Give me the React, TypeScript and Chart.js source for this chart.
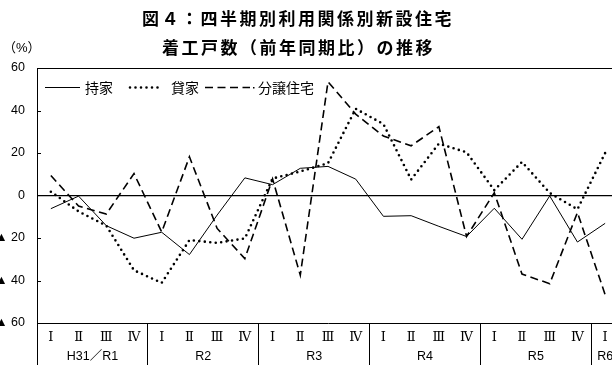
import React, { useEffect, useRef } from "react";
import { Chart, registerables } from "chart.js";

Chart.register(...registerables);

// ---- data ----
const quarterLabels = [
  "Ⅰ", "Ⅱ", "Ⅲ", "Ⅳ",
  "Ⅰ", "Ⅱ", "Ⅲ", "Ⅳ",
  "Ⅰ", "Ⅱ", "Ⅲ", "Ⅳ",
  "Ⅰ", "Ⅱ", "Ⅲ", "Ⅳ",
  "Ⅰ", "Ⅱ", "Ⅲ", "Ⅳ",
  "Ⅰ",
];
const yearLabels = ["H31／R1", "R2", "R3", "R4", "R5", "R6"];
const quartersPerYear = [4, 4, 4, 4, 4, 1];

const ownerOccupied = [
  -6.2, -0.3, -14.2, -20.1,
  -17.3, -27.8, -9.2, 8.3,
  5.1, 12.8, 13.7, 7.7,
  -9.8, -9.5, -14.5, -19.3,
  -6.0, -20.6, -0.2, -21.9,
  -13.1,
];
const rental = [
  1.8, -7.5, -14.2, -35.2,
  -41.1, -21.0, -22.3, -20.2,
  8.0, 11.3, 15.2, 40.8,
  33.6, 7.5, 24.4, 20.3,
  2.5, 15.8, 1.2, -6.5,
  20.0,
];
const forSale = [
  9.4, -5.0, -8.7, 10.3,
  -17.2, 18.2, -15.5, -29.7,
  7.8, -37.5, 53.5, 38.3,
  28.0, 23.4, 32.4, -19.3,
  1.3, -37.0, -41.5, -8.0,
  -46.7,
];
const seriesNames = ["持家", "貸家", "分譲住宅"];
const innerTickValues = [40, 20, -20, -40];
const titleLines = ["図４：四半期別利用関係別新設住宅", "着工戸数（前年同期比）の推移"];
const unitLabel = "（%）";

const FONT = "'Liberation Sans', 'Noto Sans CJK JP', sans-serif";
const JFONT = "'Noto Sans CJK JP', sans-serif";
const ROMAN_FONT = "'DejaVu Serif', 'Noto Sans CJK JP', serif";

const decorPlugin = {
  id: "decor",
  afterDraw(chart: any) {
    const { ctx, chartArea: ca, scales } = chart;
    const xs = scales.x;
    const ys = scales.y;
    ctx.save();
    ctx.strokeStyle = "#000";
    ctx.fillStyle = "#000";
    ctx.lineWidth = 1;
    ctx.setLineDash([]);

    // top border of plot
    const topY = Math.round(ca.top) + 0.5;
    ctx.beginPath();
    ctx.moveTo(ca.left, topY);
    ctx.lineTo(ca.right, topY);
    ctx.stroke();

    // inward y ticks
    innerTickValues.forEach((v) => {
      const py = Math.round(ys.getPixelForValue(v)) + 0.5;
      ctx.beginPath();
      ctx.moveTo(ca.left, py);
      ctx.lineTo(ca.left + 4, py);
      ctx.stroke();
    });

    // quarter labels
    ctx.textAlign = "center";
    ctx.textBaseline = "middle";
    ctx.font = `13px ${ROMAN_FONT}`;
    quarterLabels.forEach((q, i) => {
      ctx.fillText(q, xs.getPixelForValue(i), ca.bottom + 14.5);
    });

    // year labels
    ctx.font = `12.5px ${FONT}`;
    let start = 0;
    yearLabels.forEach((yl, k) => {
      const n = quartersPerYear[k];
      const cx = (xs.getPixelForValue(start) + xs.getPixelForValue(start + n - 1)) / 2;
      ctx.fillText(yl, cx, ca.bottom + 33.5);
      start += n;
    });

    // legend inside plot
    const ly = Math.round(ca.top + 19) + 0.5;
    const items = [
      { sx: ca.left + 8, ex: ca.left + 43, tx: ca.left + 48 },
      { sx: ca.left + 93, ex: ca.left + 125, tx: ca.left + 134 },
      { sx: ca.left + 168, ex: ca.left + 213, tx: ca.left + 221 },
    ];
    chart.data.datasets.forEach((ds: any, i: number) => {
      const it = items[i];
      ctx.save();
      ctx.lineWidth = ds.borderWidth;
      ctx.lineCap = ds.borderCapStyle || "butt";
      ctx.setLineDash(ds.borderDash || []);
      ctx.beginPath();
      ctx.moveTo(it.sx, ly);
      ctx.lineTo(it.ex, ly);
      ctx.stroke();
      if (i === 2) {
        ctx.setLineDash([]);
        ctx.fillRect(it.ex + 3, ly - 0.5, 1.5, 1.5);
      }
      ctx.restore();
      ctx.font = `14px ${JFONT}`;
      ctx.textAlign = "left";
      ctx.textBaseline = "middle";
      ctx.fillText(seriesNames[i], it.tx, ly + 0.5);
    });

    // unit label
    ctx.font = `13px ${FONT}`;
    ctx.textAlign = "left";
    ctx.textBaseline = "middle";
    ctx.fillText(unitLabel, 3, 48);

    // title
    ctx.font = `bold 17px ${JFONT}`;
    (ctx as any).letterSpacing = "2.5px";
    ctx.textAlign = "left";
    ctx.textBaseline = "middle";
    ctx.fillText(titleLines[0], 142, 19);
    ctx.fillText(titleLines[1], 162, 47.5);
    (ctx as any).letterSpacing = "0px";

    ctx.restore();
  },
};

export default function App() {
  const canvasRef = useRef<HTMLCanvasElement | null>(null);

  useEffect(() => {
    document.body.style.margin = "0";
    const canvas = canvasRef.current;
    if (!canvas) return;
    const chart = new Chart(canvas, {
      type: "line",
      data: {
        labels: quarterLabels,
        datasets: [
          {
            label: seriesNames[0],
            data: ownerOccupied,
            borderColor: "#000",
            borderWidth: 1,
            borderDash: [],
            pointRadius: 0,
            tension: 0,
            fill: false,
          },
          {
            label: seriesNames[1],
            data: rental,
            borderColor: "#000",
            borderWidth: 2.6,
            borderDash: [0, 5.5],
            borderCapStyle: "round",
            pointRadius: 0,
            tension: 0,
            fill: false,
          },
          {
            label: seriesNames[2],
            data: forSale,
            borderColor: "#000",
            borderWidth: 1.6,
            borderDash: [8, 4.5],
            pointRadius: 0,
            tension: 0,
            fill: false,
          },
        ],
      },
      options: {
        animation: false,
        responsive: false,
        devicePixelRatio: 1,
        events: [],
        layout: { padding: { top: 68, left: 0, right: 21, bottom: 0 } },
        plugins: {
          legend: { display: false },
          title: { display: false },
          tooltip: { enabled: false },
        },
        scales: {
          x: {
            type: "category",
            offset: true,
            grid: {
              offset: true,
              drawOnChartArea: false,
              drawTicks: true,
              tickLength: 42,
              color: (c: any) => (typeof c.index === "number" && c.index % 4 === 0 ? "#000" : "rgba(0,0,0,0)"),
              tickColor: (c: any) => (typeof c.index === "number" && c.index % 4 === 0 ? "#000" : "rgba(0,0,0,0)"),
              lineWidth: 1,
            },
            border: { display: true, color: "#000", width: 1 },
            ticks: { display: false },
          },
          y: {
            min: -60,
            max: 60,
            afterFit: (s: any) => {
              s.width = 37;
            },
            ticks: {
              stepSize: 20,
              color: "#000",
              padding: 12,
              font: { family: FONT, size: 12.5 },
              callback: (v: any) => (Number(v) < 0 ? "▲ " + String(-Number(v)) : String(v)),
            },
            grid: {
              drawTicks: false,
              color: (c: any) => (c.tick && c.tick.value === 0 ? "#000" : "rgba(0,0,0,0)"),
              lineWidth: 1.3,
            },
            border: { display: true, color: "#000", width: 1 },
          },
        },
      },
      plugins: [decorPlugin],
    });
    return () => chart.destroy();
  }, []);

  return (
    <div
      style={{
        position: "absolute",
        left: 0,
        top: 0,
        width: 612,
        height: 365,
        overflow: "hidden",
        background: "#fff",
      }}
    >
      <canvas ref={canvasRef} width={640} height={365} style={{ display: "block", width: 640, height: 365 }} />
    </div>
  );
}
